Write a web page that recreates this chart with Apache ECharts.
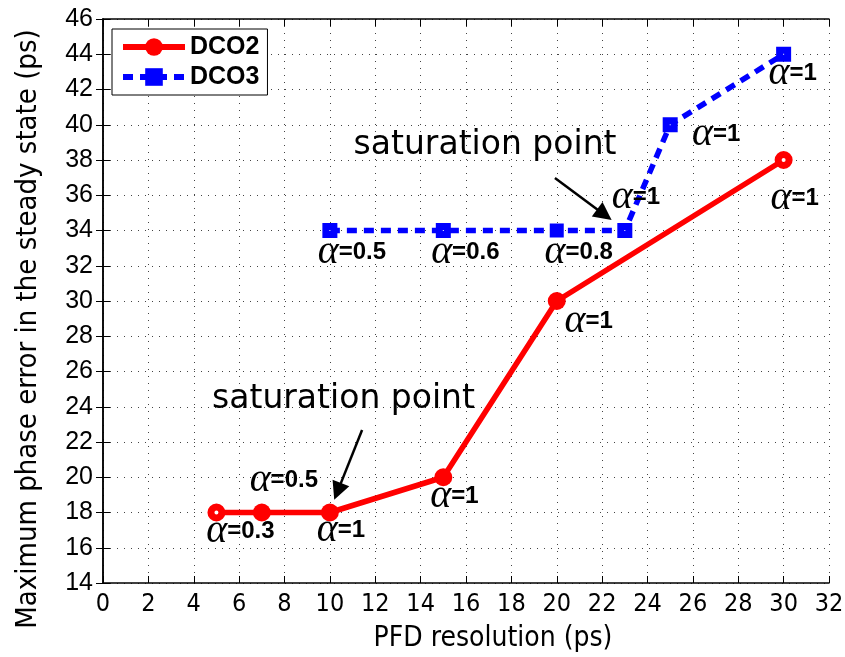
<!DOCTYPE html>
<html><head><meta charset="utf-8">
<script src="https://cdn.jsdelivr.net/npm/echarts@6/dist/echarts.min.js"></script>
<style>html,body{margin:0;padding:0;background:#fff}#c{width:845px;height:657px}</style>
</head><body><div id="c"></div>
<script>
// ---- data ----
const xDCO2 = [5, 7, 10, 15, 20, 30];
const yDCO2 = [18, 18, 18, 20, 30, 38];
const alphaDCO2 = ['0.3', '0.5', '1', '1', '1', '1'];
const xDCO3 = [10, 15, 20, 23, 25, 30];
const yDCO3 = [34, 34, 34, 34, 40, 44];
const alphaDCO3 = ['0.5', '0.6', '0.8', '1', '1', '1'];
const xRange = [0, 32, 2];
const yRange = [14, 46, 2];
const noteText = 'saturation point';
const noteAnchors = [[16.84, 38.8], [10.6, 24.44]];
const arrowStarts = [[19.92, 36.98], [11.42, 22.68]];
const arrowEnds = [[22.1, 34.9], [10.34, 19.2]];

// ---- styles ----
const RED = '#ff0000', BLUE = '#0000ff';
const hollowDCO2 = [true, false, false, false, false, true];
const hollowDCO3 = [true, true, false, true, true, true];
const offDCO2 = [[24, 19], [22, -32], [11, 18], [11, 19], [32, 20], [11, 38]];
const offDCO3 = [[22, 22], [22, 22], [22, 22], [11, -33], [46, 10], [9, 19]];
const rich = {
  a: { fontFamily: 'Liberation Serif', fontStyle: 'italic', fontSize: 40, color: '#000' },
  b: { fontFamily: 'Liberation Sans', fontWeight: 'bold', fontSize: 24, color: '#000' }
};
function buildData(xs, ys, alphas, hollow, offs, isCircle, color) {
  return xs.map((x, i) => ({
    value: [x, ys[i]],
    symbolSize: hollow[i] ? (isCircle ? 11 : 8) : (isCircle ? 18 : 14),
    itemStyle: hollow[i] ? { color: '#fff', borderColor: color, borderWidth: 7 }
                         : { color: color, borderWidth: 0 },
    label: {
      show: true, position: 'inside', offset: offs[i],
      formatter: '{a|α}{b|=' + alphas[i] + '}', rich: rich
    }
  }));
}
const narrow = '"DejaVu Sans Condensed", "Liberation Sans Narrow", "DejaVu Sans", sans-serif';

const axisLine = { show: true, lineStyle: { color: '#000', width: 1.5 } };
const tick = { show: true, inside: true, length: 7, lineStyle: { color: '#000', width: 1 } };
const split = { show: true, lineStyle: { color: '#444', width: 1, type: [1, 6] } };

const option = {
  animation: false,
  backgroundColor: '#fff',
  grid: { left: 103, right: 16, top: 19, bottom: 74, containLabel: false, outerBoundsMode: 'none' },
  legend: {
    data: ['DCO2', 'DCO3'], orient: 'vertical', left: 112, top: 29,
    itemWidth: 62, itemHeight: 22, itemGap: 4, padding: [5, 8],
    borderColor: '#000', borderWidth: 1, backgroundColor: '#fff',
    lineStyle: { width: 6 },
    textStyle: { fontFamily: 'Liberation Sans', fontWeight: 'bold', fontSize: 25, color: '#000', lineHeight: 26 }
  },
  xAxis: [{
    type: 'value', min: xRange[0], max: xRange[1], interval: xRange[2],
    axisLine: axisLine, axisTick: tick, splitLine: split,
    axisLabel: { fontFamily: narrow, fontSize: 25, color: '#000', margin: 9 },
    name: 'PFD resolution (ps)', nameLocation: 'middle', nameGap: 42,
    nameTextStyle: { fontFamily: narrow, fontSize: 28, color: '#000', padding: [0, 0, 0, 54] }
  }, {
    type: 'value', position: 'top', min: xRange[0], max: xRange[1], interval: xRange[2],
    axisLine: axisLine, axisTick: tick, splitLine: { show: false }, axisLabel: { show: false }
  }],
  yAxis: [{
    type: 'value', min: yRange[0], max: yRange[1], interval: yRange[2],
    axisLine: axisLine, axisTick: tick, splitLine: split,
    axisLabel: { fontFamily: 'Liberation Sans', fontSize: 25, color: '#000', margin: 10 },
    name: 'Maximum phase error in the steady state (ps)', nameLocation: 'middle', nameGap: 60,
    nameTextStyle: { fontFamily: narrow, fontSize: 29, color: '#000', padding: [0, 56, 0, 0] }
  }, {
    type: 'value', position: 'right', min: yRange[0], max: yRange[1], interval: yRange[2],
    axisLine: axisLine, axisTick: tick, splitLine: { show: false }, axisLabel: { show: false }
  }],
  series: [{
    name: 'DCO2', type: 'line', xAxisIndex: 0, yAxisIndex: 0, z: 3,
    symbol: 'circle', symbolSize: 18,
    lineStyle: { color: RED, width: 5.5 },
    itemStyle: { color: RED, borderWidth: 0 },
    data: buildData(xDCO2, yDCO2, alphaDCO2, hollowDCO2, offDCO2, true, RED),
    markLine: {
      silent: true, symbol: ['none', 'triangle'], symbolSize: 18,
      lineStyle: { color: '#000', width: 2.5, type: 'solid' },
      itemStyle: { color: '#000' },
      label: { show: false },
      emphasis: { disabled: true },
      data: arrowStarts.map((s, i) => [{ coord: s }, { coord: arrowEnds[i] }])
    },
    markPoint: {
      silent: true, symbol: 'circle', symbolSize: 1,
      itemStyle: { color: 'rgba(0,0,0,0)' },
      label: { show: true, position: 'inside', formatter: noteText,
        fontFamily: 'DejaVu Sans', fontSize: 33, color: '#000' },
      data: noteAnchors.map(c => ({ coord: c }))
    }
  }, {
    name: 'DCO3', type: 'line', xAxisIndex: 0, yAxisIndex: 0, z: 3,
    symbol: 'rect', symbolSize: 14,
    lineStyle: { color: BLUE, width: 5.5, type: [10, 7] },
    itemStyle: { color: BLUE, borderWidth: 0 },
    data: buildData(xDCO3, yDCO3, alphaDCO3, hollowDCO3, offDCO3, false, BLUE)
  }]
};
const chart = echarts.init(document.getElementById('c'), null, { renderer: 'canvas' });
chart.setOption(option);
</script></body></html>
